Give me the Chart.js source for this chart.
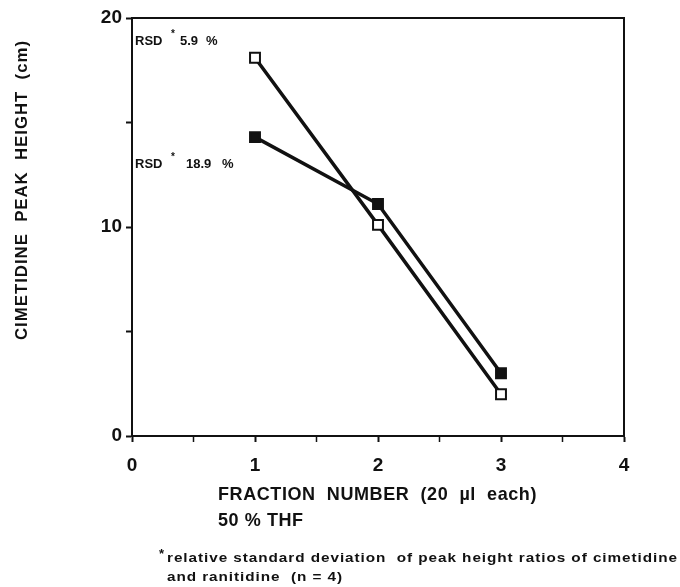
<!DOCTYPE html>
<html lang="en">
<head>
  <meta charset="UTF-8" />
  <title>Cimetidine peak height per fraction</title>
  <script src="https://cdn.jsdelivr.net/npm/chart.js"></script>
  <style>
    body { margin: 0; background: #fff; }
    #wrap { width: 680px; height: 587px; }
  </style>
</head>
<body>
  <div id="wrap"><canvas id="chart" width="680" height="587"></canvas></div>
  <script>
    const fractions = [1, 2, 3];
    const openSeries = [18.1, 10.1, 2.0];    // RSD 5.9 %
    const filledSeries = [14.3, 11.1, 3.0];  // RSD 18.9 %
    const xTicks = [0, 1, 2, 3, 4];
    const yTicks = [0, 10, 20];

    const FONT = "'Liberation Sans', Arial, sans-serif";

    const toPoints = (vals) => fractions.map((f, i) => ({ x: f, y: vals[i] }));

    // draw text stretched horizontally by sx
    function wideText(ctx, text, x, y, sx, ls = 0) {
      ctx.letterSpacing = ls + 'px';
      ctx.save();
      ctx.translate(x, y);
      ctx.scale(sx, 1);
      ctx.fillText(text, 0, 0);
      ctx.restore();
      ctx.letterSpacing = '0px';
    }
    function stretchFor(ctx, text, width, ls = 0) {
      ctx.letterSpacing = ls + 'px';
      const w = ctx.measureText(text).width;
      ctx.letterSpacing = '0px';
      return width / w;
    }

    // frame, titles, RSD notes and footnote
    const decorations = {
      id: 'decorations',
      afterDraw(chart) {
        const { ctx, chartArea: a } = chart;
        ctx.save();
        ctx.strokeStyle = '#111';
        ctx.lineWidth = 2;
        ctx.strokeRect(a.left, a.top, a.right - a.left, a.bottom - a.top);

        ctx.fillStyle = '#111';
        ctx.textBaseline = 'middle';
        ctx.textAlign = 'left';

        // y title
        ctx.save();
        ctx.translate(22, 190);
        ctx.rotate(-Math.PI / 2);
        ctx.font = `bold 17px ${FONT}`;
        const yt = 'CIMETIDINE  PEAK  HEIGHT  (cm)';
        wideText(ctx, yt, -150, 0, stretchFor(ctx, yt, 300, 1), 1);
        ctx.restore();

        // x title
        ctx.font = `bold 19px ${FONT}`;
        const xt = 'FRACTION  NUMBER  (20  µl  each)';
        const sx = stretchFor(ctx, xt, 319, 0.6);
        wideText(ctx, xt, 218, 495, sx, 0.6);
        wideText(ctx, '50 % THF', 218, 521, sx, 0.6);

        // footnote
        ctx.font = `bold 13px ${FONT}`;
        ctx.fillText('*', 159, 554);
        const f1 = 'relative standard deviation  of peak height ratios of cimetidine';
        const fs = stretchFor(ctx, f1, 511, 0.8);
        wideText(ctx, f1, 167, 558, fs, 0.8);
        wideText(ctx, 'and ranitidine  (n = 4)', 167, 577, fs, 0.8);

        // RSD notes
        const y = chart.scales.y;
        const notes = [
          { val: 18.9, num: '5.9', numX: 180, pctX: 206 },
          { val: 13.0, num: '18.9', numX: 186, pctX: 222 }
        ];
        notes.forEach(n => {
          const py = y.getPixelForValue(n.val);
          ctx.font = `bold 13px ${FONT}`;
          ctx.fillText('RSD', 135, py);
          ctx.fillText(n.num, n.numX, py);
          ctx.fillText('%', n.pctX, py);
          ctx.font = `bold 10px ${FONT}`;
          ctx.fillText('*', 171, py - 7);
        });
        ctx.restore();
      }
    };

    new Chart(document.getElementById('chart'), {
      type: 'scatter',
      data: {
        datasets: [
          {
            label: 'RSD 5.9 %',
            data: toPoints(openSeries),
            showLine: true,
            borderColor: '#111',
            borderWidth: 3.5,
            pointStyle: 'rect',
            pointRadius: 7,
            pointBorderWidth: 2,
            pointBackgroundColor: '#fff',
            pointBorderColor: '#111'
          },
          {
            label: 'RSD 18.9 %',
            data: toPoints(filledSeries),
            showLine: true,
            borderColor: '#111',
            borderWidth: 3.5,
            pointStyle: 'rect',
            pointRadius: 7,
            pointBorderWidth: 2,
            pointBackgroundColor: '#111',
            pointBorderColor: '#111'
          }
        ]
      },
      options: {
        responsive: false,
        animation: false,
        layout: { padding: { left: 0, top: 18, right: 56, bottom: 0 } },
        plugins: {
          legend: { display: false },
          tooltip: { enabled: false }
        },
        scales: {
          x: {
            type: 'linear',
            min: 0,
            max: 4,
            afterFit: (s) => { s.height = 151; },
            afterBuildTicks: (s) => {
              const t = [];
              for (let v = 0; v <= 4; v += 0.5) t.push({ value: v });
              s.ticks = t;
            },
            grid: {
              drawOnChartArea: false,
              tickLength: 6,
              tickColor: '#111',
              tickWidth: (c) => (Number.isInteger(c.tick?.value) ? 2 : 1.5)
            },
            border: { color: '#111', width: 2 },
            ticks: {
              color: '#111',
              padding: 12,
              font: { family: FONT, size: 19, weight: 'bold' },
              callback: (v) => (xTicks.includes(v) ? String(v) : '')
            }
          },
          y: {
            min: 0,
            max: 20,
            afterFit: (s) => { s.width = 132; },
            afterBuildTicks: (s) => {
              s.ticks = [0, 5, 10, 15, 20].map(v => ({ value: v }));
            },
            grid: {
              drawOnChartArea: false,
              tickLength: 6,
              tickColor: '#111',
              tickWidth: 2
            },
            border: { color: '#111', width: 2 },
            ticks: {
              color: '#111',
              padding: 4,
              font: { family: FONT, size: 19, weight: 'bold' },
              callback: (v) => (yTicks.includes(v) ? String(v) : '')
            }
          }
        }
      },
      plugins: [decorations]
    });
  </script>
</body>
</html>
